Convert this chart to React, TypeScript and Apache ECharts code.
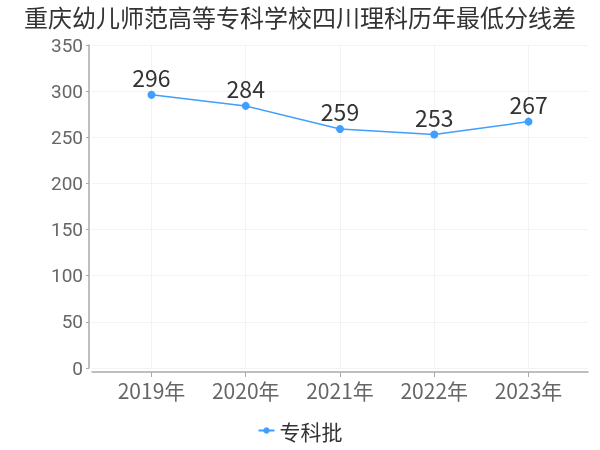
import React, { useEffect, useRef } from "react";
import * as echarts from "echarts";

const titleText = "重庆幼儿师范高等专科学校四川理科历年最低分线差";
const categories = ["2019年", "2020年", "2021年", "2022年", "2023年"];
const seriesName = "专科批";
const values = [296, 284, 259, 253, 267];
const yTicks = [0, 50, 100, 150, 200, 250, 300, 350];

const FONT = "'Noto Sans CJK SC', sans-serif";
const NUM_FONT = "Roboto, 'Noto Sans CJK SC', sans-serif";

export default function App() {
  const ref = useRef<HTMLDivElement>(null);
  useEffect(() => {
    if (!ref.current) return;
    const chart = echarts.init(ref.current, undefined, { renderer: "svg" });
    const idx = categories.map((_, i) => i);
    chart.setOption({
      animation: false,
      textStyle: { fontFamily: FONT },
      title: {
        text: titleText,
        left: "center",
        top: 0,
        padding: [4, 5, 2, 5],
        textStyle: { fontSize: 24, fontWeight: "normal", color: "#333", fontFamily: FONT, lineHeight: 24 },
      },
      legend: {
        bottom: 4,
        left: "center",
        itemWidth: 16,
        itemHeight: 8,
        textStyle: { fontSize: 21, color: "#333", fontFamily: FONT },
        data: [seriesName],
      },
      grid: { left: 92, right: 12, top: 45, bottom: 82 },
      xAxis: {
        type: "value",
        min: -0.631,
        max: 4.631,
        offset: 4,
        axisLine: { show: true, onZero: false, lineStyle: { color: "#aaa", width: 1.5 } },
        axisTick: { show: true, length: 5, customValues: idx, lineStyle: { color: "#aaa" } },
        axisLabel: {
          customValues: idx,
          formatter: (v: number) => categories[Math.round(v)] ?? "",
          fontSize: 21,
          color: "#666",
          margin: 7,
          fontFamily: FONT,
        },
        splitLine: { show: true, lineStyle: { color: "#f3f3f3" } },
      },
      yAxis: {
        type: "value",
        min: yTicks[0],
        max: yTicks[yTicks.length - 1],
        interval: 50,
        offset: 3,
        axisLine: { show: true, onZero: false, lineStyle: { color: "#aaa", width: 1.5 } },
        axisTick: { show: true, length: 3, lineStyle: { color: "#aaa" } },
        axisLabel: { fontSize: 19, color: "#666", margin: 6, fontFamily: NUM_FONT, lineHeight: 19 },
        splitLine: { show: true, lineStyle: { color: "#f3f3f3" } },
      },
      series: [
        {
          name: seriesName,
          type: "line",
          data: values.map((v, i) => [idx[i], v]),
          symbol: "circle",
          symbolSize: 8,
          itemStyle: { color: "#409EFF" },
          lineStyle: { color: "#409EFF", width: 1.5 },
          label: { show: true, position: "top", fontSize: 23, color: "#333", distance: 2, fontFamily: FONT },
        },
      ],
    });
    return () => chart.dispose();
  }, []);
  return <div ref={ref} style={{ position: "fixed", left: 0, top: 0, width: 600, height: 450 }} />;
}
